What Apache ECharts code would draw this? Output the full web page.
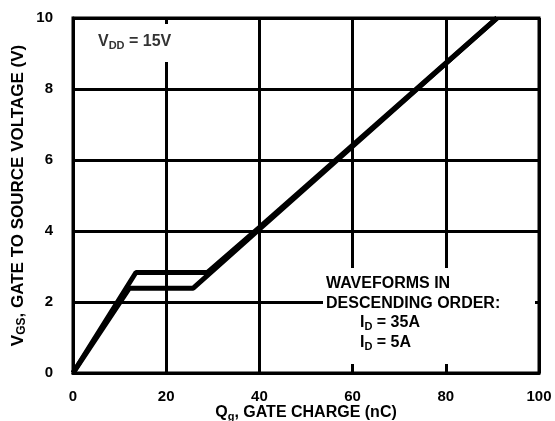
<!DOCTYPE html>
<html>
<head>
<meta charset="utf-8"/>
<title>Gate charge</title>
<script src="https://cdn.jsdelivr.net/npm/echarts@6/dist/echarts.min.js"></script>
<style>
  html, body { margin: 0; padding: 0; background: #fff; }
  #main { width: 555px; height: 421px; }
</style>
</head>
<body>
<div id="main"></div>
<script>
// Qg (nC) vs VGS (V), one polyline per drain current
var qg35 = [0, 13.5, 28.8, 40, 91];
var vgs35 = [0, 2.83, 2.83, 4.1, 10];
var qg5 = [0, 12.1, 25.8, 40, 91];
var vgs5 = [0, 2.39, 2.39, 4.05, 10];

function pairs(xs, ys) {
    var out = [];
    for (var i = 0; i < xs.length; i++) out.push([xs[i], ys[i]]);
    return out;
}

var FONT = '"Liberation Sans", Arial, sans-serif';
var chart = echarts.init(document.getElementById('main'));

var option = {
    animation: false,
    grid: {
        left: 73, right: 16, top: 18, bottom: 48,
        outerBoundsMode: 'none',
        show: true, borderColor: '#000', borderWidth: 3, backgroundColor: 'transparent'
    },
    xAxis: {
        type: 'value', min: 0, max: 100, interval: 20,
        name: '{a|Q}{s|g}{a|, GATE CHARGE (nC)}',
        nameLocation: 'middle', nameGap: 31, nameMoveOverlap: false,
        nameTextStyle: {
            rich: {
                a: { fontFamily: FONT, fontWeight: 'bold', fontSize: 16, color: '#000' },
                s: { fontFamily: FONT, fontWeight: 'bold', fontSize: 11, color: '#000', verticalAlign: 'bottom', padding: [7, 0, 0, 0] }
            }
        },
        axisLine: { show: true, lineStyle: { color: '#000', width: 3 } },
        axisTick: { show: false },
        axisLabel: { margin: 16, color: '#000', fontFamily: FONT, fontWeight: 'bold', fontSize: 15 },
        splitLine: { show: true, lineStyle: { color: '#000', width: 3 } }
    },
    yAxis: {
        type: 'value', min: 0, max: 10, interval: 2,
        name: '{a|V}{s|GS}{a|, GATE TO SOURCE VOLTAGE (V)}',
        nameLocation: 'middle', nameGap: 45, nameMoveOverlap: false,
        nameTextStyle: {
            rich: {
                a: { fontFamily: FONT, fontWeight: 'bold', fontSize: 17, color: '#000' },
                s: { fontFamily: FONT, fontWeight: 'bold', fontSize: 12, color: '#000', verticalAlign: 'bottom', padding: [7, 0, 0, 0] }
            }
        },
        axisLine: { show: true, lineStyle: { color: '#000', width: 3 } },
        axisTick: { show: false },
        axisLabel: { margin: 20, color: '#000', fontFamily: FONT, fontWeight: 'bold', fontSize: 15 },
        splitLine: { show: true, lineStyle: { color: '#000', width: 3 } }
    },
    graphic: [
        // white patches behind the two notes
        { type: 'rect', z: 1, shape: { x: 78, y: 24, width: 130, height: 38 }, style: { fill: '#fff' } },
        { type: 'rect', z: 1, shape: { x: 323, y: 268, width: 212, height: 96 }, style: { fill: '#fff' } },
        {
            type: 'text', z: 5, left: 98, top: 34,
            style: {
                text: '{a|V}{s|DD}{a| = 15V}',
                rich: {
                    a: { fontFamily: FONT, fontWeight: 'bold', fontSize: 16, fill: '#333' },
                    s: { fontFamily: FONT, fontWeight: 'bold', fontSize: 11, fill: '#333', padding: [7, 0, 0, 0] }
                }
            }
        },
        {
            type: 'text', z: 5, left: 326, top: 274,
            style: {
                text: 'WAVEFORMS IN\nDESCENDING ORDER:',
                fontFamily: FONT, fontWeight: 'bold', fontSize: 16, lineHeight: 20, fill: '#000'
            }
        },
        {
            type: 'text', z: 5, left: 360, top: 314,
            style: {
                text: '{a|I}{s|D}{a| = 35A}\n{a|I}{s|D}{a| = 5A}',
                rich: {
                    a: { fontFamily: FONT, fontWeight: 'bold', fontSize: 16, fill: '#000', lineHeight: 20 },
                    s: { fontFamily: FONT, fontWeight: 'bold', fontSize: 11, fill: '#000', lineHeight: 20, padding: [7, 0, 0, 0] }
                }
            }
        }
    ],
    series: [
        {
            name: 'ID = 35A', type: 'line', z: 3, symbol: 'none',
            lineStyle: { color: '#000', width: 5 },
            data: pairs(qg35, vgs35)
        },
        {
            name: 'ID = 5A', type: 'line', z: 3, symbol: 'none',
            lineStyle: { color: '#000', width: 5 },
            data: pairs(qg5, vgs5)
        }
    ]
};

chart.setOption(option);
</script>
</body>
</html>
